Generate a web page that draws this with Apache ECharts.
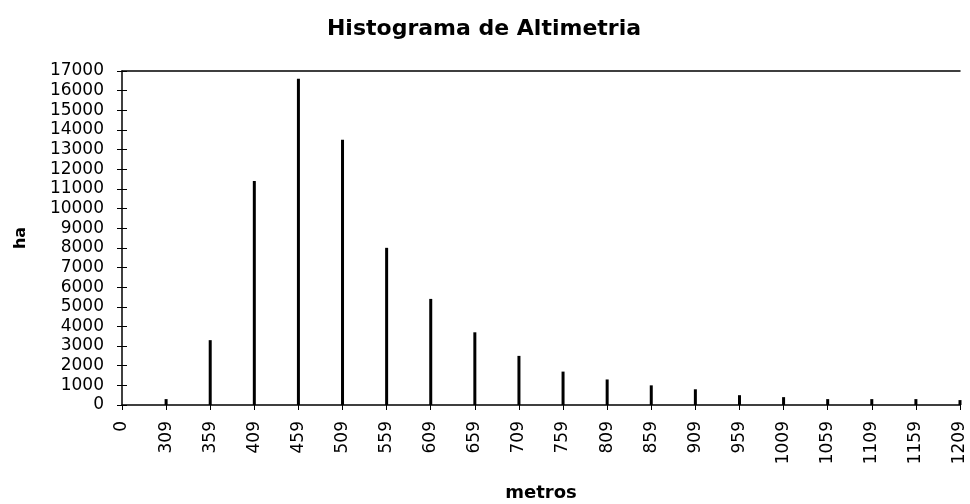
<!DOCTYPE html>
<html>
<head>
<meta charset="utf-8">
<script src="https://cdn.jsdelivr.net/npm/echarts@6/dist/echarts.min.js"></script>
<style>
  html, body { margin: 0; padding: 0; background: #fff; }
  #chart { width: 970px; height: 504px; }
</style>
</head>
<body>
<div id="chart"></div>
<script>
// Altitude classes (m) and area per class (ha)
const categories = ['0', '309', '359', '409', '459', '509', '559', '609', '659', '709',
  '759', '809', '859', '909', '959', '1009', '1059', '1109', '1159', '1209'];
const hectares = [0, 300, 3300, 11400, 16600, 13500, 8000, 5400, 3700, 2500,
  1700, 1300, 1000, 800, 500, 400, 300, 300, 300, 250];
const yMin = 0, yMax = 17000, yStep = 1000;

const FONT = 'DejaVu Sans';
const chart = echarts.init(document.getElementById('chart'), null, { renderer: 'canvas' });

chart.setOption({
  animation: false,
  backgroundColor: '#ffffff',
  title: {
    text: 'Histograma de Altimetria',
    left: 479, top: 13, textAlign: 'center',
    textStyle: { fontFamily: FONT, fontSize: 22, fontWeight: 'bold', color: '#000' }
  },
  grid: { left: 122, right: 10, top: 71, bottom: 99, containLabel: false, outerBoundsMode: 'none' },
  xAxis: [{
    type: 'category',
    data: categories,
    boundaryGap: false,
    position: 'bottom',
    name: 'metros',
    nameLocation: 'middle',
    nameGap: 79,
    nameTextStyle: { fontFamily: FONT, fontSize: 18, fontWeight: 'bold', color: '#000' },
    axisLine: { lineStyle: { color: '#000', width: 1.5 } },
    axisTick: { show: true, length: 5, lineStyle: { color: '#000', width: 1 } },
    axisLabel: { rotate: 90, margin: 16, fontFamily: FONT, fontSize: 17, color: '#000', interval: 0 },
    splitLine: { show: false }
  }, {
    // top border of the plot area
    type: 'category',
    data: categories,
    boundaryGap: false,
    position: 'top',
    axisLine: { onZero: false, lineStyle: { color: '#000', width: 1.5 } },
    axisTick: { show: false },
    axisLabel: { show: false },
    splitLine: { show: false }
  }],
  yAxis: [{
    type: 'value',
    min: yMin, max: yMax, interval: yStep,
    name: 'ha',
    nameLocation: 'middle',
    nameRotate: 90,
    nameGap: 93,
    nameTextStyle: { fontFamily: FONT, fontSize: 16, fontWeight: 'bold', color: '#000' },
    axisLine: { show: true, lineStyle: { color: '#000', width: 1.5 } },
    axisTick: { show: true, length: 5, lineStyle: { color: '#000' } },
    axisLabel: { margin: 18, fontFamily: FONT, fontSize: 17, color: '#000', formatter: v => String(v) },
    splitLine: { show: false }
  }, {
    // inner half of the crossing tick marks
    type: 'value',
    min: yMin, max: yMax, interval: yStep,
    position: 'left',
    axisLine: { show: false, onZero: false },
    axisTick: { show: true, inside: true, length: 5, lineStyle: { color: '#000' } },
    axisLabel: { show: false },
    splitLine: { show: false }
  }],
  series: [{
    type: 'bar',
    data: hectares,
    xAxisIndex: 0,
    yAxisIndex: 0,
    barWidth: 3,
    itemStyle: { color: '#000' }
  }]
});
</script>
</body>
</html>
